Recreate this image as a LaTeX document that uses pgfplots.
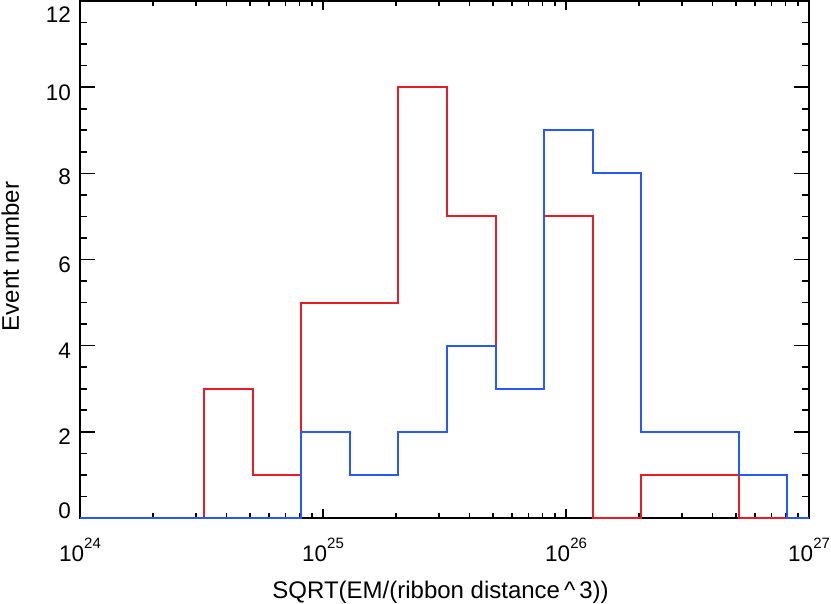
\documentclass[border=0pt]{standalone}
\usepackage{fontspec}
\setmainfont{Liberation Sans}
\usepackage{pgfplots}
\pgfplotsset{compat=1.18}
\definecolor{hred}{RGB}{232,28,36}
\definecolor{hblue}{RGB}{38,88,255}
\newcommand\ep[1]{10\raisebox{12.5pt}{\fontsize{15}{15}\selectfont #1}}
\newcommand\yl[2]{\raisebox{#1}[0.72em][0pt]{#2}}
\begin{document}
\begin{tikzpicture}
\begin{axis}[
  scale only axis,
  width=729pt, height=517pt,
  xmode=log,
  xmin=1e24, xmax=1e27,
  ymin=0, ymax=12,
  ytick={0,2,4,6,8,10,12},
  yticklabels={\yl{8pt}{0},\yl{-5pt}{2},\yl{-5pt}{4},\yl{-5pt}{6},\yl{-3pt}{8},\yl{-5pt}{10},\yl{-13pt}{12}},
  minor y tick num=3,
  xtick={1e24,1e25,1e26,1e27},
  xticklabels={\ep{24},\ep{25},\ep{26},\ep{27}},
  /pgf/number format/assume math mode=true,
  tick label style={font=\fontsize{22.5}{24}\selectfont},
  label style={font=\fontsize{24}{26}\selectfont},
  xlabel={SQRT(EM/(ribbon distance\,\^{}\,3))},
  ylabel={Event number},
  axis line style={line width=1.7pt},
  tick style={line width=1.6pt, black},
  xtick style={/pgfplots/major tick length=9pt,/pgfplots/minor tick length=5pt},
  ytick style={/pgfplots/major tick length=15pt,/pgfplots/minor tick length=7pt},
  xticklabel style={yshift=-16.5pt},
  yticklabel style={xshift=-5.7pt},
  xlabel style={at={(axis description cs:0.4945,0)}, anchor=base, yshift=-80pt},
  ylabel style={at={(axis description cs:-0.0840,0.5058)}, anchor=base},
  clip=false,
]
\addplot[const plot, hred, line width=2pt] coordinates {
(1e24,0) (3.236e24,3) (5.129e24,1) (8.128e24,5) (1.288e25,5) (2.042e25,10) (3.236e25,7) (5.129e25,3) (8.128e25,7) (1.288e26,0) (2.042e26,1) (3.236e26,1) (5.129e26,0) (8.128e26,0)
};
\addplot[const plot, hblue, line width=2pt] coordinates {
(1e24,0) (8.128e24,2) (1.288e25,1) (2.042e25,2) (3.236e25,4) (5.129e25,3) (8.128e25,9) (1.288e26,8) (2.042e26,2) (3.236e26,2) (5.129e26,1) (8.128e26,0) (1e27,0)
};
\end{axis}
\pgfresetboundingbox
\path[use as bounding box] ([shift={(-80pt,-85pt)}]current axis.south west) rectangle ([shift={(22pt,1pt)}]current axis.north east);
\end{tikzpicture}
\end{document}
